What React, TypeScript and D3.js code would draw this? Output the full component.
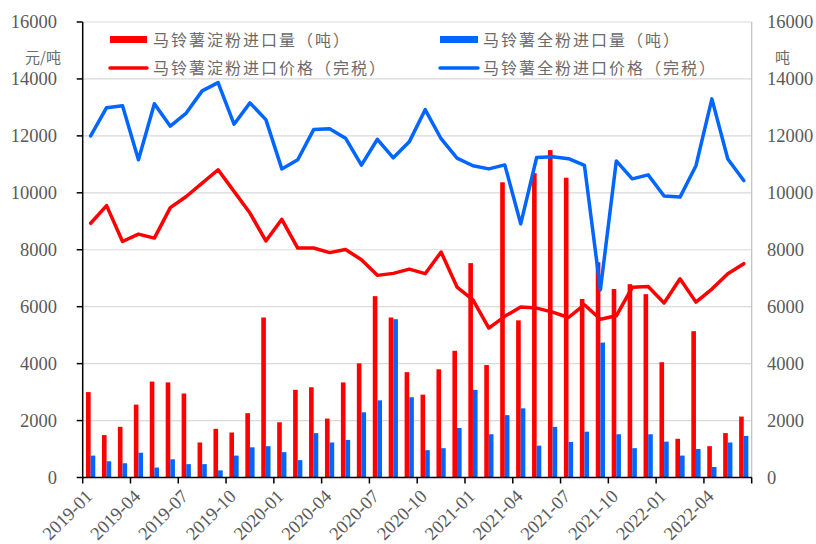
import React from 'react';
import * as d3 from 'd3';

// months 2019-01 .. 2022-06
const months = [
	'2019-01', '2019-02', '2019-03', '2019-04', '2019-05', '2019-06', '2019-07', '2019-08', '2019-09', '2019-10', '2019-11', '2019-12',
	'2020-01', '2020-02', '2020-03', '2020-04', '2020-05', '2020-06', '2020-07', '2020-08', '2020-09', '2020-10', '2020-11', '2020-12',
	'2021-01', '2021-02', '2021-03', '2021-04', '2021-05', '2021-06', '2021-07', '2021-08', '2021-09', '2021-10', '2021-11', '2021-12',
	'2022-01', '2022-02', '2022-03', '2022-04', '2022-05', '2022-06'
];

const starchVolume = [
	3000, 1490, 1780, 2560, 3370, 3340, 2950, 1230, 1710, 1580, 2260, 5620,
	1940, 3080, 3170, 2070, 3340, 4010, 6370, 5620, 3700, 2910, 3800, 4450,
	7530, 3950, 10370, 5520, 10690, 11500, 10530, 6270, 7560, 6620, 6790, 6440,
	4050, 1360, 5140, 1100, 1560, 2140
];

const flourVolume = [
	770, 570, 500, 870, 350, 640, 470, 470, 250, 770, 1060, 1100,
	890, 610, 1560, 1230, 1320, 2290, 2710, 5560, 2820, 960, 1030, 1740,
	3080, 1520, 2190, 2430, 1120, 1780, 1250, 1610, 4740, 1520, 1030, 1520,
	1260, 770, 1000, 370, 1230, 1460
];

const starchPrice = [
	8930, 9550, 8290, 8550, 8410, 9480, 9870, 10340, 10810, 10050, 9290, 8310,
	9070, 8060, 8060, 7900, 8010, 7650, 7100, 7170, 7320, 7160, 7920, 6690,
	6240, 5250, 5660, 5990, 5950, 5810, 5620, 6070, 5560, 5680, 6680, 6710,
	6130, 6980, 6160, 6620, 7160, 7510
];

const flourPrice = [
	12000, 12990, 13060, 11160, 13130, 12340, 12800, 13580, 13870, 12410, 13160, 12570,
	10840, 11160, 12220, 12250, 11920, 10970, 11880, 11230, 11790, 12920, 11900, 11220,
	10950, 10840, 10980, 8910, 11240, 11270, 11200, 10960, 6590, 11120, 10490, 10630,
	9890, 9850, 10950, 13300, 11190, 10430
];

const yTicks = [0, 2000, 4000, 6000, 8000, 10000, 12000, 14000, 16000];

const RED = '#ff0000';
const BLUE = '#0066ff';
const GREY = '#595959';
const SERIF = '"Liberation Serif", "Times New Roman", serif';
const CJK = '"Noto Sans CJK SC", sans-serif';

export default function App() {
	const width = 816;
	const height = 544;
	const left = 82.7;
	const right = 751.7;
	const top = 22;
	const bottom = 477.5;

	const x = d3.scaleBand<string>().domain(months).range([left, right]).paddingInner(0).paddingOuter(0);
	const bw = x.bandwidth();
	const yL = d3.scaleLinear().domain([0, 16000]).range([bottom, top]);
	const yR = d3.scaleLinear().domain([0, 16000]).range([bottom, top]);

	const barW = bw * 0.29;
	const cx = (m: string) => (x(m) as number) + bw / 2;

	const line = d3
		.line<number>()
		.x((_, i) => cx(months[i]))
		.y((d) => yL(d));

	const tickMonths = months.filter((_, i) => i % 3 === 0);

	return (
		<div style={{ position: 'absolute', left: 0, top: 0 }}>
			<svg width={width} height={height} style={{ display: 'block', background: '#fff' }}>
				{/* grid */}
				{yTicks.map((t) => (
					<line key={'g' + t} x1={left} x2={right} y1={yL(t)} y2={yL(t)} stroke="#d9d9d9" strokeWidth={1.2} />
				))}

				{/* bars */}
				{months.map((m, i) => (
					<g key={'b' + m}>
						<rect x={cx(m) - barW} y={yR(starchVolume[i])} width={barW} height={bottom - yR(starchVolume[i])} fill={RED} />
						<rect x={cx(m)} y={yR(flourVolume[i])} width={barW} height={bottom - yR(flourVolume[i])} fill={BLUE} />
					</g>
				))}

				{/* lines */}
				<path d={line(flourPrice) || ''} fill="none" stroke={BLUE} strokeWidth={3.5} strokeLinejoin="round" strokeLinecap="round" />
				<path d={line(starchPrice) || ''} fill="none" stroke={RED} strokeWidth={3.5} strokeLinejoin="round" strokeLinecap="round" />

				{/* right axis */}
				<line x1={right} x2={right} y1={top} y2={bottom} stroke="#bfbfbf" strokeWidth={1.2} />
				{yTicks.map((t) => (
					<text key={'r' + t} x={767} y={yR(t)} dy="0.35em" fontFamily={SERIF} fontSize={18.5} fill={GREY}>
						{t}
					</text>
				))}
				<text x={775} y={58} dy="0.35em" fontFamily={CJK} fontSize={15} fill="#6b6b6b">吨</text>

				{/* left axis */}
				<line x1={left} x2={left} y1={top} y2={bottom} stroke="#000" strokeWidth={1.5} />
				{yTicks.map((t) => (
					<g key={'l' + t}>
						<line x1={left - 6} x2={left} y1={yL(t)} y2={yL(t)} stroke="#000" strokeWidth={1.5} />
						<text x={57} y={yL(t)} dy="0.35em" textAnchor="end" fontFamily={SERIF} fontSize={18.5} fill={GREY}>
							{t}
						</text>
					</g>
				))}
				<text x={25} y={58} dy="0.35em" fontFamily={CJK} fontSize={15} fill="#6b6b6b">元/吨</text>

				{/* bottom axis */}
				<line x1={left} x2={right} y1={bottom} y2={bottom} stroke="#000" strokeWidth={1.5} />
				{tickMonths.map((m) => (
					<line key={'t' + m} x1={x(m)} x2={x(m)} y1={bottom} y2={bottom + 6} stroke="#000" strokeWidth={1.5} />
				))}
				<line x1={right} x2={right} y1={bottom} y2={bottom + 6} stroke="#000" strokeWidth={1.5} />
				{tickMonths.map((m) => (
					<text
						key={'x' + m}
						transform={`translate(${cx(m) + 3},${bottom + 20}) rotate(-45)`}
						textAnchor="end"
						fontFamily={SERIF}
						fontSize={18.5}
						fill={GREY}
					>
						{m}
					</text>
				))}

				{/* legend */}
				<g fontFamily={CJK} fontSize={16} fill="#6b6b6b" letterSpacing={2}>
					<rect x={110} y={36} width={37} height={7} fill={RED} />
					<text x={153} y={40} dy="0.35em">马铃薯淀粉进口量（吨）</text>
					<line x1={110} x2={147} y1={68} y2={68} stroke={RED} strokeWidth={3.5} strokeLinecap="round" />
					<text x={153} y={68} dy="0.35em">马铃薯淀粉进口价格（完税）</text>
					<rect x={440} y={36} width={38} height={7} fill={BLUE} />
					<text x={483} y={40} dy="0.35em">马铃薯全粉进口量（吨）</text>
					<line x1={440} x2={478} y1={68} y2={68} stroke={BLUE} strokeWidth={3.5} strokeLinecap="round" />
					<text x={483} y={68} dy="0.35em">马铃薯全粉进口价格（完税）</text>
				</g>
			</svg>
		</div>
	);
}
